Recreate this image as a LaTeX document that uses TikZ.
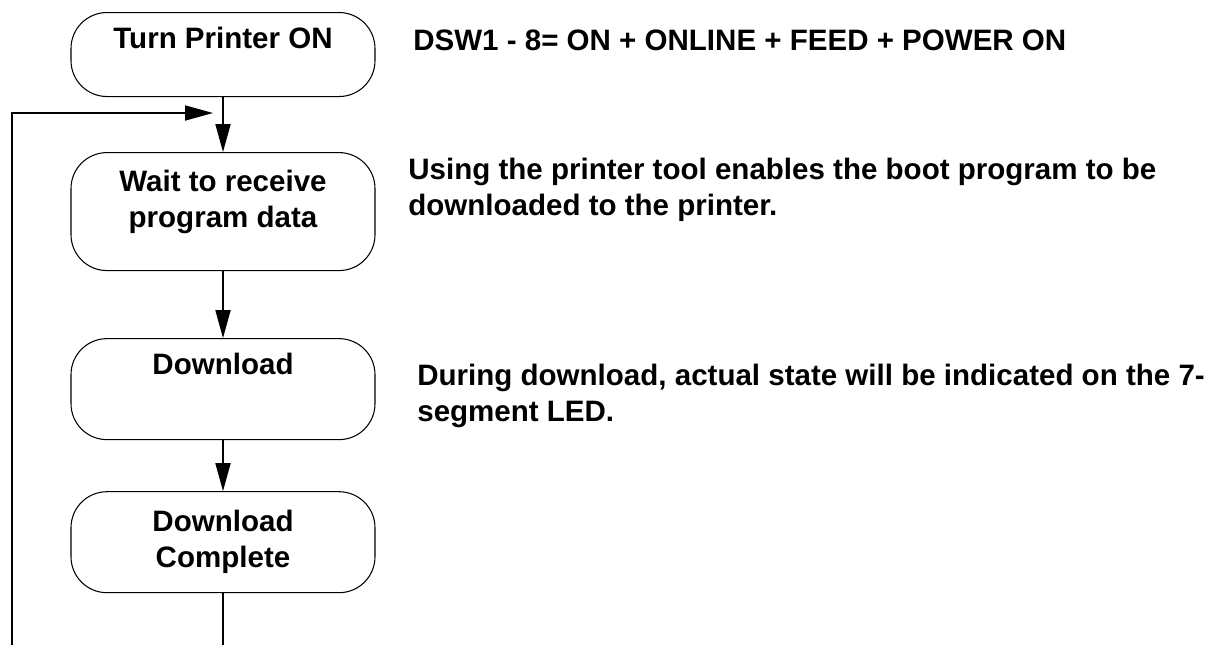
\documentclass[tikz,border=0pt]{standalone}
\usepackage{fontspec}
\setmainfont{Liberation Sans}
\usepackage{tikz}
\usetikzlibrary{arrows.meta,positioning,calc}

\begin{document}
\begin{tikzpicture}[
  font=\fontsize{16.8}{20.6}\selectfont\bfseries,
  flowbox/.style={draw=black,line width=0.6pt,rounded corners=0.72cm,minimum width=6.08cm,inner ysep=0pt,align=center},
  note/.style={anchor=west,align=left,inner sep=0pt},
  arrow/.style={-{Triangle[length=0.56cm,width=0.3cm]},line width=1pt},
  link/.style={line width=1pt}
]
\useasboundingbox (0,0) rectangle (24.14,-12.9);
\node[flowbox,text height=0.72cm,text depth=0.96cm,anchor=north] (turnon) at (4.46,-0.24) {Turn Printer ON};
\node[flowbox,text height=1.5cm,text depth=0.86cm,below=1.1cm of turnon] (wait) {Wait to receive\\program data};
\node[flowbox,text height=0.72cm,text depth=1.3cm,below=1.34cm of wait] (download) {Download};
\node[flowbox,minimum height=2.02cm,below=1.02cm of download] (complete) {Download\\Complete};
% notes beside the flow
\node[anchor=base west,inner sep=0pt] (dswnote) at (8.26,-1.0) {DSW1 - 8= ON + ONLINE + FEED + POWER ON};
\node[note] (toolnote) at (8.16,-3.8) {Using the printer tool enables the boot program to be\\downloaded to the printer.};
\node[note] (lednote) at (8.34,-7.92) {During download, actual state will be indicated on the 7-\\segment LED.};
% flow
\draw[arrow] (turnon) -- (wait);
\draw[arrow] (wait) -- (download);
\draw[arrow] (download) -- (complete);
% loop back
\coordinate (loopstart) at (0.24,-12.9);
\coordinate[xshift=-0.2cm] (loopend) at ($(turnon.south)!0.29!(wait.north)$);
\draw[link] (complete.south) -- (complete.south |- loopstart);
\draw[arrow] (loopstart) |- (loopend);
\end{tikzpicture}
\end{document}
